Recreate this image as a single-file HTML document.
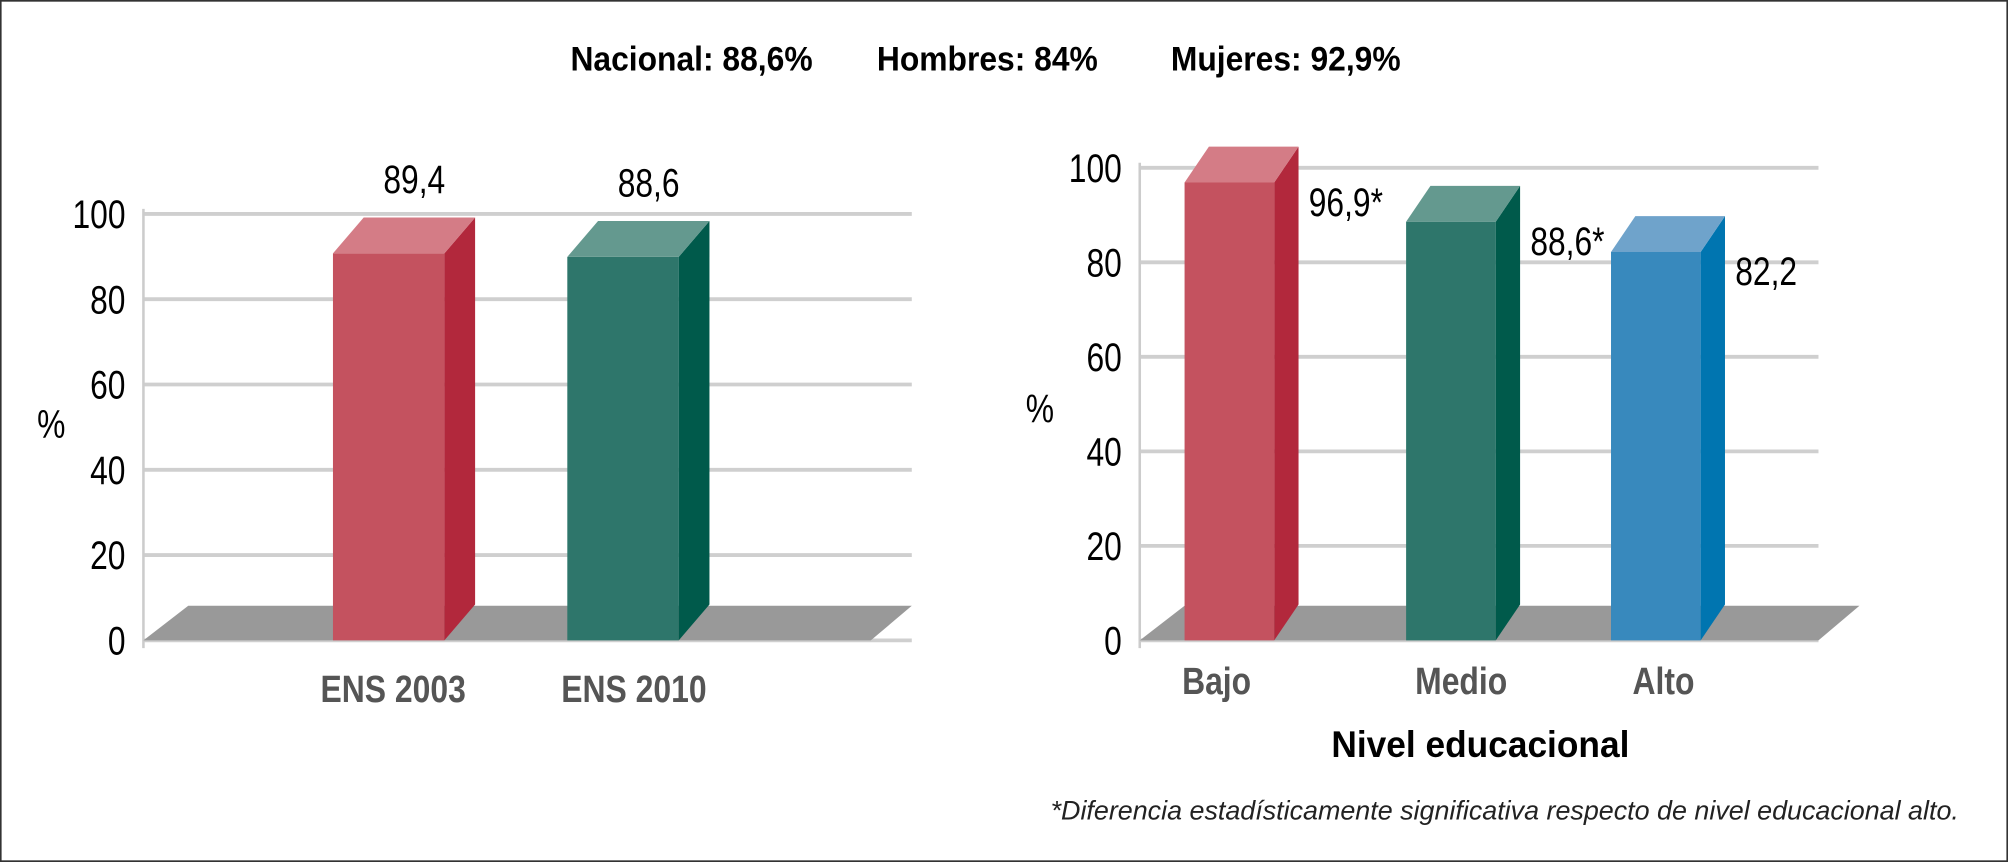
<!DOCTYPE html>
<html><head><meta charset="utf-8"><style>
html,body{margin:0;padding:0;background:#fff}
svg{display:block}
text{font-family:"Liberation Sans Narrow","Liberation Sans",sans-serif}
</style></head><body>
<svg id="s" width="2008" height="862" viewBox="0 0 1568 673" xmlns="http://www.w3.org/2000/svg">
<rect x="0.5" y="0.5" width="1567" height="672" fill="#fff" stroke="#333" stroke-width="1.5"/>
<text class="cd" data-f="0.92" x="540" y="55" font-size="27" font-weight="bold" text-anchor="middle">Nacional: 88,6%</text>
<text class="cd" data-f="0.92" x="771" y="55" font-size="27" font-weight="bold" text-anchor="middle">Hombres: 84%</text>
<text class="cd" data-f="0.92" x="1004" y="55" font-size="27" font-weight="bold" text-anchor="middle">Mujeres: 92,9%</text>
<g id="left"></g>
<g id="right"></g>
<text class="cd" data-f="0.95" x="1156" y="591" font-size="29" font-weight="bold" text-anchor="middle">Nivel educacional</text>
<text x="1175" y="640" font-size="21" font-style="italic" text-anchor="middle" fill="#222">*Diferencia estadísticamente significativa respecto de nivel educacional alto.</text>
</svg>
<script>
const leftCategories = ["ENS 2003", "ENS 2010"];
const leftValues = [89.4, 88.6];
const leftLabels = ["89,4", "88,6"];
const rightCategories = ["Bajo", "Medio", "Alto"];
const rightValues = [96.9, 88.6, 82.2];
const rightLabels = ["96,9*", "88,6*", "82,2"];
const yTicks = [0, 20, 40, 60, 80, 100];

const NS = "http://www.w3.org/2000/svg";
function mk(parent, tag, attrs, txt) {
  const e = document.createElementNS(NS, tag);
  for (const k in attrs) e.setAttribute(k, attrs[k]);
  if (txt !== undefined) e.textContent = txt;
  parent.appendChild(e);
  return e;
}
const palettes = [
  {front:"#c4525f", side:"#b2283c", top:"#d47c86"},
  {front:"#2e766b", side:"#005a4b", top:"#64998f"},
  {front:"#3889bd", side:"#0075b0", top:"#6fa3cb"}
];

function drawChart(g, cfg, cats, vals, labels) {
  const y = v => cfg.y0 - v * cfg.k;
  const gy = v => cfg.y0 - v * cfg.gk;
  yTicks.forEach(t => {
    const l = mk(g, "line", {x1: cfg.ax, x2: cfg.gx2, y1: gy(t), y2: gy(t), stroke: "#cfcfcf", "stroke-width": 3});
    
    
    const tx = mk(g, "text", {x: cfg.ax - 14, y: gy(t) + 11, "font-size": 31, "text-anchor": "end", "class": "cd", "data-f": "0.8"}, String(t));
    
    
  });
  const axl = mk(g, "line", {x1: cfg.ax, x2: cfg.ax, y1: gy(100) - 4, y2: cfg.y0 + 6, stroke: "#ccc", "stroke-width": 2});
  
  
  const pct = mk(g, "text", {x: cfg.pctX, y: cfg.pctY, "font-size": 31, "text-anchor": "middle", "class": "cd", "data-f": "0.8"}, "%");
  
  
  const fl = mk(g, "polygon", {points: `${cfg.ax},${cfg.y0} ${cfg.ax+35},${cfg.y0-27} ${cfg.fx2},${cfg.y0-27} ${cfg.fx2-32},${cfg.y0}`, fill: "#999"});
  
  
  vals.forEach((v, i) => {
    const p = palettes[i];
    const x = cfg.bx[i], w = cfg.bw, dx = cfg.dx, dy = 28, top = y(v), b = cfg.y0;
    const bar = mk(g, "g", {});
    
    
    mk(bar, "rect", {x: x, y: top, width: w, height: b - top, fill: p.front});
    mk(bar, "polygon", {points: `${x+w},${top} ${x+w+dx},${top-dy} ${x+w+dx},${b-dy} ${x+w},${b}`, fill: p.side});
    mk(bar, "polygon", {points: `${x},${top} ${x+dx},${top-dy} ${x+w+dx},${top-dy} ${x+w},${top}`, fill: p.top});
    let lx, ly, anchor;
    if (cfg.labelAbove) { lx = x + w/2 + dx/2 + 8; ly = top - dy - 19; anchor = "middle"; }
    else { lx = x + w + dx + 8; ly = top + 26; anchor = "start"; }
    const vl = mk(g, "text", {x: lx, y: ly, "font-size": 31, "text-anchor": anchor, "class": "cd", "data-f": "0.8"}, labels[i]);
    
    
    const cl = mk(g, "text", {x: cfg.cx[i], y: cfg.catY, "font-size": 30, "font-weight": "bold", fill: "#555", "text-anchor": "middle", "class": "cd", "data-f": "0.83"}, cats[i]);
    
    
  });
}
drawChart(document.getElementById("left"),
  {y0: 500, k: 3.38, gk: 3.33, ax: 112, gx2: 712, fx2: 712, bx: [260, 443], bw: 87, dx: 24,
   pctX: 40, pctY: 342, labelAbove: true, cx: [307, 495], catY: 548},
  leftCategories, leftValues, leftLabels);
drawChart(document.getElementById("right"),
  {y0: 500, k: 3.69, gk: 3.69, ax: 890, gx2: 1420, fx2: 1452, bx: [925, 1098, 1258], bw: 70, dx: 19,
   pctX: 812, pctY: 330, labelAbove: false, cx: [950, 1141, 1299], catY: 542},
  rightCategories, rightValues, rightLabels);

document.querySelectorAll("text.cd").forEach(t => {
  const f = parseFloat(t.getAttribute("data-f"));
  const L = t.getComputedTextLength();
  if (L > 0) {
    t.setAttribute("textLength", (L * f).toFixed(1));
    t.setAttribute("lengthAdjust", "spacingAndGlyphs");
  }
});
</script>
</body></html>
